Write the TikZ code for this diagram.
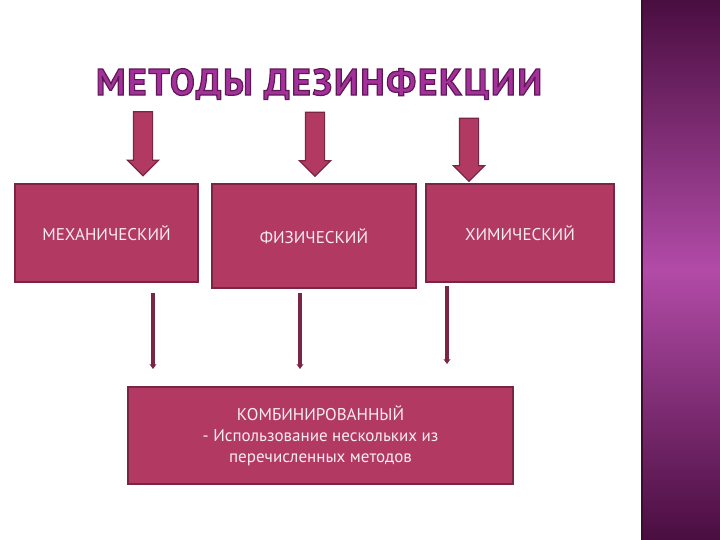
\documentclass[tikz,border=0pt]{standalone}
\usepackage{fontspec}
\setmainfont{PT Sans}
\usepackage{xcolor}
\definecolor{boxfill}{HTML}{B23A62}
\definecolor{boxedge}{HTML}{7A2545}
\definecolor{titlefill}{HTML}{A4309C}
\definecolor{sidedark}{HTML}{4A0E40}
\definecolor{sidemid}{HTML}{B24BA7}
\definecolor{boxtext}{HTML}{F6ECF1}
\usepackage{tikz}
\usetikzlibrary{arrows.meta,positioning,shapes.arrows,calc}
% outlined title letters (fill + stroke)
\newcommand{\outlined}[1]{\special{pdf:literal direct 2 Tr 1.2 w 0.37 0.10 0.33 RG}#1\special{pdf:literal direct 0 Tr}}

\begin{document}
\begin{tikzpicture}[x=1bp,y=-1bp,>=Stealth]
\tikzset{
 box/.style={draw=boxedge,line width=2bp,fill=boxfill,text=boxtext,font=\fontsize{17bp}{21bp}\selectfont,align=center,inner sep=0pt},
 big/.style={single arrow,draw=boxedge,line width=1.2bp,fill=boxfill,rotate=-90,inner xsep=0pt,inner ysep=9bp,single arrow head extend=6bp,single arrow head indent=0pt,minimum height=64bp},
 link/.style={-{Stealth[length=5bp,width=7bp]},draw=boxedge,line width=3.5bp,shorten <=4bp}
}
\useasboundingbox (0,0) rectangle (720,540);
\fill[white] (0,0) rectangle (720,540);
% side panel
\shade[top color=sidedark,bottom color=sidedark,middle color=sidemid] (642,0) rectangle (720,540);
\draw[sidedark!80!black,line width=1.5bp] (642,0) -- (642,540);
% title
\node[text=titlefill,font=\fontsize{37bp}{40bp}\bfseries\selectfont\addfontfeature{LetterSpace=5}] (title) at (319,84) {\outlined{МЕТОДЫ ДЕЗИНФЕКЦИИ}};
% boxes
\node[box,minimum width=183bp,minimum height=98bp] (mech) at (106.5,233) {МЕХАНИЧЕСКИЙ};
\node[box,minimum width=204bp,minimum height=104bp] (phys) at (314,236) {ФИЗИЧЕСКИЙ};
\node[box,minimum width=188bp,minimum height=98bp] (chem) at (520,233) {ХИМИЧЕСКИЙ};
\node[box,minimum width=385bp,minimum height=97bp] (comb) at (320.5,435.5) {КОМБИНИРОВАННЫЙ\\- Использование нескольких из\\перечисленных методов};
% block arrows
\node[big] (a1) at (143,139) {};
\node[big] (a2) at (315,139.5) {};
\node[big,minimum height=63bp] (a3) at (469,145) {};
% thin arrows
\draw[link,shorten <=10bp,shorten >=17bp] ([xshift=46.5bp]mech.south) -- ([xshift=46.5bp]mech.south |- comb.north);
\draw[link,shorten >=17bp] ([xshift=-14bp]phys.south) -- ([xshift=-14bp]phys.south |- comb.north);
\draw[link,shorten <=3bp,shorten >=22bp] ([xshift=-73bp]chem.south) -- ([xshift=-73bp]chem.south |- comb.north);
\end{tikzpicture}
\end{document}
